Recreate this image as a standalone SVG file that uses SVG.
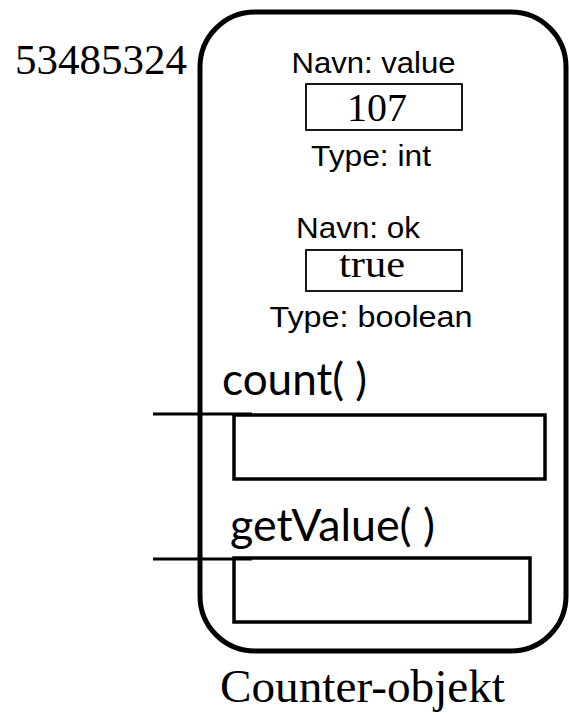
<svg xmlns="http://www.w3.org/2000/svg" width="569" height="715" viewBox="0 0 569 715">
  <style>
    .sans { font-family: "Liberation Sans", Arial, sans-serif; font-size: 30px; fill: #000; }
    .serif { font-family: "Liberation Serif", "Times New Roman", serif; fill: #000; }
    .method { font-family: Lato, "Open Sans", sans-serif; font-size: 45px; fill: #000; }
    .valbox { fill: #fff; stroke: #000; stroke-width: 1.8; }
    .mbox { fill: none; stroke: #000; stroke-width: 3.5; }
    .wire { fill: none; stroke: #000; stroke-width: 3; }
  </style>
  <rect width="569" height="715" fill="#fff"/>

  <!-- object reference -->
  <text id="address" class="serif" x="15" y="74" font-size="43">53485324</text>

  <!-- object outline -->
  <g id="counter-object">
    <rect x="200" y="12" width="366" height="639" rx="55" ry="55" fill="none" stroke="#000" stroke-width="5"/>
    <text class="serif" x="220" y="702" font-size="46" textLength="285" lengthAdjust="spacingAndGlyphs">Counter-objekt</text>
  </g>

  <!-- field: value -->
  <g id="field-value">
    <text class="sans" x="373.5" y="73" text-anchor="middle" textLength="164" lengthAdjust="spacingAndGlyphs">Navn: value</text>
    <rect class="valbox" x="306" y="84" width="156" height="46"/>
    <text class="serif" x="377" y="121" font-size="40" text-anchor="middle">107</text>
    <text class="sans" x="371" y="166" text-anchor="middle" textLength="120" lengthAdjust="spacingAndGlyphs">Type: int</text>
  </g>

  <!-- field: ok -->
  <g id="field-ok">
    <text class="sans" x="358" y="238" text-anchor="middle" textLength="124" lengthAdjust="spacingAndGlyphs">Navn: ok</text>
    <rect class="valbox" x="306" y="250" width="156" height="41"/>
    <text class="serif" x="372" y="277" font-size="38" text-anchor="middle" textLength="66" lengthAdjust="spacingAndGlyphs">true</text>
    <text class="sans" x="371" y="327" text-anchor="middle" textLength="203" lengthAdjust="spacingAndGlyphs">Type: boolean</text>
  </g>

  <!-- method: count -->
  <g id="method-count">
    <text class="method" x="222" y="395" textLength="145" lengthAdjust="spacingAndGlyphs">count( )</text>
    <rect class="mbox" x="234" y="415" width="311" height="64"/>
  </g>

  <!-- method: getValue -->
  <g id="method-getValue">
    <text class="method" x="230" y="541" textLength="205" lengthAdjust="spacingAndGlyphs">getValue( )</text>
    <rect class="mbox" x="234" y="558" width="296" height="64"/>
  </g>

  <!-- call lines into the methods -->
  <g id="connectors">
    <line class="wire" x1="153" y1="414" x2="252" y2="414"/>
    <line class="wire" x1="153" y1="559" x2="252" y2="559"/>
  </g>
</svg>
